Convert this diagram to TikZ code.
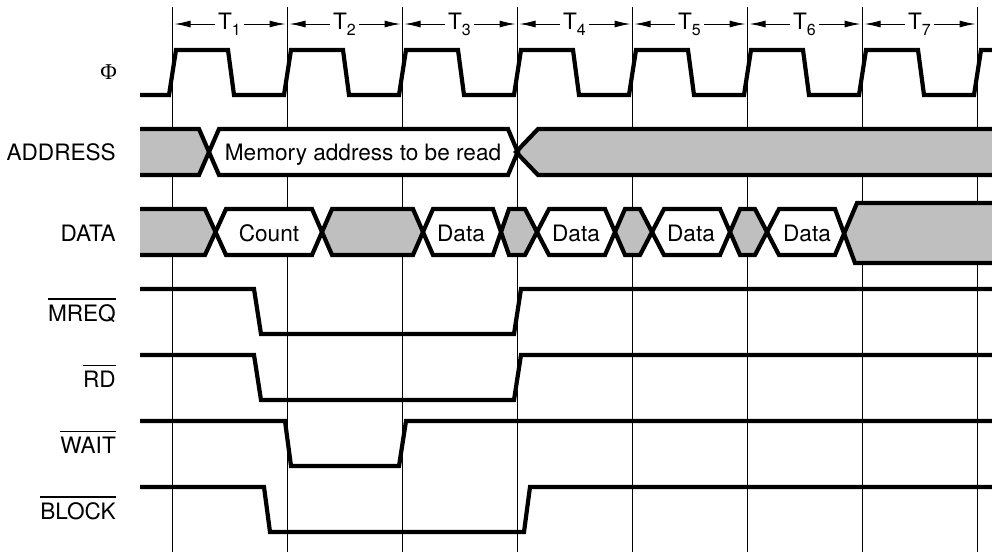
\documentclass[tikz,border=0pt]{standalone}
\usepackage{fontspec}
\setmainfont{TeX Gyre Heros}
\newfontfamily\phifont{Liberation Serif}
\usetikzlibrary{arrows.meta}
\definecolor{busgray}{gray}{0.75}
\tikzset{
  grid line/.style={line width=1pt,black},
  sig/.style={line width=4.2pt,black,line join=miter,line cap=butt},
  bus/.style={line width=4.2pt,black,line join=miter,line cap=butt},
  lbl/.style={anchor=base east,inner sep=0pt,font=\fontsize{22.6}{24}\selectfont},
  intext/.style={anchor=base,inner sep=0pt,font=\fontsize{22.6}{24}\selectfont},
  tlabel/.style={inner sep=3pt,font=\fontsize{22.6}{24}\selectfont},
  dim/.style={line width=1pt,-{Latex[length=16pt,width=7pt]},shorten >=2pt},
}
\newcommand{\ovl}[1]{\vbox{\hrule height 1.5pt \kern 4.2pt \hbox{#1}}}
\begin{document}
\begin{tikzpicture}[x=1pt,y=-1pt]
\useasboundingbox (0,0) rectangle (992,552);
% grid lines
\foreach \n/\x in {0/172.5,1/287.5,2/402.5,3/517.5,4/632.5,5/747.5,6/862.5,7/977.5}{
  \coordinate (gt\n) at (\x,7);
  \coordinate (gb\n) at (\x,552);
  \coordinate (ga\n) at (\x,24);
  \draw[grid line] (gt\n) -- (gb\n);
}
% period labels
\foreach \i/\a/\b/\cx in {1/0/1/229.5,2/1/2/344.5,3/2/3/459.5,4/3/4/574.5,5/4/5/689.5,6/5/6/804.5,7/6/7/919.5}{
  \node[tlabel,fill=white] (t\i) at (\cx,24) {T\raisebox{-6pt}{\fontsize{16}{16}\selectfont \i}};
  \draw[dim] (t\i.west) -- (ga\a);
  \draw[dim] (t\i.east) -- (ga\b);
}
% clock
\draw[sig] (140,95) -- (169,95) -- (176,50) -- (228,50) -- (234,95) -- (284,95)
  -- (291,50) -- (343,50) -- (349,95) -- (399,95)
  -- (406,50) -- (458,50) -- (464,95) -- (514,95)
  -- (521,50) -- (573,50) -- (579,95) -- (629,95)
  -- (636,50) -- (688,50) -- (694,95) -- (744,95)
  -- (751,50) -- (803,50) -- (809,95) -- (859,95)
  -- (866,50) -- (918,50) -- (924,95) -- (974,95)
  -- (981,50) -- (992,50);
% address bus
\fill[busgray] (140,129) -- (199,129) -- (209,152) -- (199,175) -- (140,175) -- cycle;
\fill[white] (209,152) -- (219,129) -- (508,129) -- (517.5,152) -- (508,175) -- (219,175) -- cycle;
\fill[busgray] (517.5,152) -- (538,129) -- (992,129) -- (992,175) -- (538,175) -- cycle;
\draw[bus] (140,129) -- (199,129) -- (219,175) -- (508,175) -- (518.5,150);
\draw[bus] (140,175) -- (199,175) -- (219,129) -- (508,129) -- (518.5,154);
\draw[bus] (992,129) -- (538,129) -- (516,152) -- (538,175) -- (992,175);
% data bus
\foreach \f/\a/\b/\c/\d in {
  busgray/140/140/205/215,
  white/215/226/312/322,
  busgray/322/332/413/423,
  white/423/433/493/501,
  busgray/501/509/525/537,
  white/537/549/605/615,
  busgray/615/625/640/652,
  white/652/664/720/730,
  busgray/730/740/755/767,
  white/767/779/835/845}{
  \fill[\f] (\a,232) -- (\b,209) -- (\c,209) -- (\d,232) -- (\c,255) -- (\b,255) -- cycle;
}
\fill[busgray] (845,232) -- (857,203) -- (992,203) -- (992,263) -- (855,263) -- cycle;
\draw[bus] (140,209) -- (205,209) -- (226,255) -- (312,255) -- (332,209) -- (413,209) -- (433,255)
  -- (493,255) -- (509,209) -- (525,209) -- (549,255) -- (605,255) -- (625,209) -- (640,209) -- (664,255)
  -- (720,255) -- (740,209) -- (755,209) -- (779,255) -- (835,255) -- (857,203) -- (992,203);
\draw[bus] (140,255) -- (205,255) -- (226,209) -- (312,209) -- (332,255) -- (413,255) -- (433,209)
  -- (493,209) -- (509,255) -- (525,255) -- (549,209) -- (605,209) -- (625,255) -- (640,255) -- (664,209)
  -- (720,209) -- (740,255) -- (755,255) -- (779,209) -- (835,209) -- (855,263) -- (992,263);
% control signals
\draw[sig] (140,289) -- (254,289) -- (261,334) -- (514,334) -- (521,289) -- (992,289);
\draw[sig] (140,355) -- (254,355) -- (261,400) -- (514,400) -- (521,355) -- (992,355);
\draw[sig] (140,421) -- (285,421) -- (291,466) -- (399,466) -- (406,421) -- (992,421);
\draw[sig] (140,487) -- (264,487) -- (270,532) -- (524,532) -- (530,487) -- (992,487);
% labels
\node[lbl] (lphi) at (117,79) {\phifont Φ};
\node[lbl] (laddr) at (116,160) {ADDRESS};
\node[lbl] (ldata) at (116,241) {DATA};
\node[lbl] (lmreq) at (116,321) {\ovl{MREQ}};
\node[lbl] (lrd) at (116,387) {\ovl{RD}};
\node[lbl] (lwait) at (116,453) {\ovl{WAIT}};
\node[lbl] (lblock) at (116,519) {\ovl{BLOCK}};
\node[intext] (taddr) at (363,160) {Memory address to be read};
\node[intext] (tcount) at (269,241) {Count};
\node[intext] (td1) at (461,241) {Data};
\node[intext] (td2) at (576,241) {Data};
\node[intext] (td3) at (691,241) {Data};
\node[intext] (td4) at (807,241) {Data};
\end{tikzpicture}
\end{document}
